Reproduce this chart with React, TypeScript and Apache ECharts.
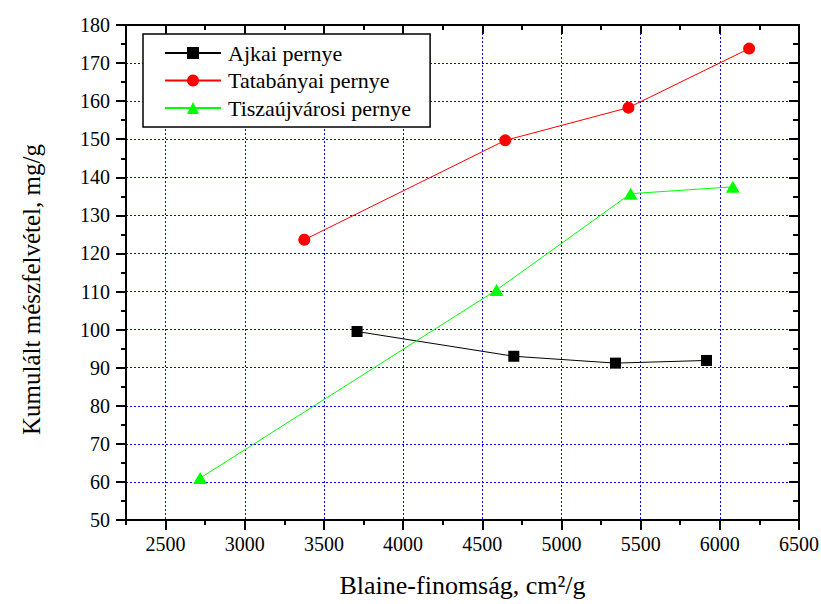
import React, { useEffect, useRef } from "react";
import * as echarts from "echarts";

const seriesNames = ["Ajkai pernye", "Tatabányai pernye", "Tiszaújvárosi pernye"];
const ajkaiX = [3709, 4699, 5341, 5916];
const ajkaiY = [99.5, 93.0, 91.2, 91.9];
const tataX = [3376, 4645, 5423, 6185];
const tataY = [123.6, 149.7, 158.3, 173.8];
const tiszaX = [2718, 4590, 5437, 6082];
const tiszaY = [61.0, 110.4, 135.7, 137.5];
const xMajorTicks = [2500, 3000, 3500, 4000, 4500, 5000, 5500, 6000, 6500];

const FONT = "'Liberation Serif', 'Times New Roman', serif";

export default function App() {
  const ref = useRef<HTMLDivElement>(null);
  useEffect(() => {
    if (!ref.current) return;
    const chart = echarts.init(ref.current, undefined, { renderer: "svg" });
    const black = "#000000";
    const grid = { color: "#0000ff", type: [2, 2] as any, width: 1 };
    const pair = (xs: number[], ys: number[]) => xs.map((x, i) => [x, ys[i]]);
    const plain = (v: number) => String(v);
    const baseX = { type: "value", min: 2250, max: 6500, nameMoveOverlap: false };
    const baseY = { type: "value", min: 50, max: 180, interval: 10, nameMoveOverlap: false };
    chart.setOption({
      animation: false,
      backgroundColor: "#ffffff",
      textStyle: { fontFamily: FONT },
      grid: { left: 126, right: 22, top: 25, bottom: 84, outerBoundsMode: "none" },
      legend: {
        orient: "vertical",
        left: 143,
        top: 34,
        padding: [8, 19, 8, 21],
        itemGap: 5.5,
        itemWidth: 56,
        itemHeight: 15,
        backgroundColor: "#ffffff",
        borderColor: black,
        borderWidth: 1.5,
        textStyle: { fontFamily: FONT, fontSize: 22, color: black, lineHeight: 22, padding: [0, 0, 0, 2] },
        data: seriesNames,
      },
      xAxis: [
        {
          ...baseX,
          position: "bottom",
          interval: 250,
          axisLine: { show: true, lineStyle: { color: black, width: 2 } },
          axisTick: { show: true, inside: false, length: 5, lineStyle: { color: black, width: 2 } },
          axisLabel: { show: false },
          splitLine: { show: false },
        },
        {
          ...baseX,
          position: "bottom",
          axisLine: { show: false },
          axisTick: { show: true, inside: false, length: 10, customValues: xMajorTicks, lineStyle: { color: black, width: 2 } },
          axisLabel: { show: true, customValues: xMajorTicks, formatter: plain, fontFamily: FONT, fontSize: 20, color: black, margin: 14 },
          splitLine: { show: true, lineStyle: grid },
          name: "Blaine-finomság, cm²/g",
          nameLocation: "middle",
          nameGap: 52,
          nameTextStyle: { fontFamily: FONT, fontSize: 26, color: black },
        },
        {
          ...baseX,
          position: "top",
          interval: 250,
          axisLine: { show: true, lineStyle: { color: black, width: 2 } },
          axisTick: { show: true, inside: true, length: 5, lineStyle: { color: black, width: 2 } },
          axisLabel: { show: false },
          splitLine: { show: false },
        },
        {
          ...baseX,
          position: "top",
          axisLine: { show: false },
          axisTick: { show: true, inside: true, length: 9, customValues: xMajorTicks, lineStyle: { color: black, width: 2 } },
          axisLabel: { show: false },
          splitLine: { show: false },
        },
      ],
      yAxis: [
        {
          ...baseY,
          position: "left",
          axisLine: { show: true, lineStyle: { color: black, width: 2 } },
          axisTick: { show: true, inside: false, length: 10, lineStyle: { color: black, width: 2 } },
          minorTick: { show: true, splitNumber: 2, length: 5, lineStyle: { color: black, width: 2 } },
          axisLabel: { show: true, formatter: plain, fontFamily: FONT, fontSize: 20, color: black, margin: 16 },
          splitLine: { show: true, lineStyle: grid },
          name: "Kumulált mészfelvétel, mg/g",
          nameLocation: "middle",
          nameGap: 82,
          nameTextStyle: { fontFamily: FONT, fontSize: 25, color: black, padding: [0, 34, 0, 0] },
        },
        {
          ...baseY,
          position: "right",
          axisLine: { show: true, lineStyle: { color: black, width: 2 } },
          axisTick: { show: true, inside: true, length: 10, lineStyle: { color: black, width: 2 } },
          minorTick: { show: true, splitNumber: 2, length: 6, lineStyle: { color: black, width: 2 } },
          axisLabel: { show: false },
          splitLine: { show: false },
        },
      ],
      series: [
        {
          name: seriesNames[0],
          type: "line",
          data: pair(ajkaiX, ajkaiY),
          symbol: "rect",
          symbolSize: 11,
          itemStyle: { color: black },
          lineStyle: { color: black, width: 1 },
        },
        {
          name: seriesNames[1],
          type: "line",
          data: pair(tataX, tataY),
          symbol: "circle",
          symbolSize: 12,
          itemStyle: { color: "#ff0000" },
          lineStyle: { color: "#ff0000", width: 1 },
        },
        {
          name: seriesNames[2],
          type: "line",
          data: pair(tiszaX, tiszaY),
          symbol: "triangle",
          symbolSize: [14, 12],
          itemStyle: { color: "#00ff00" },
          lineStyle: { color: "#00ff00", width: 1 },
        },
      ],
    });
    return () => chart.dispose();
  }, []);
  return <div ref={ref} style={{ width: 821, height: 604, position: "absolute", left: 0, top: 0 }} />;
}
